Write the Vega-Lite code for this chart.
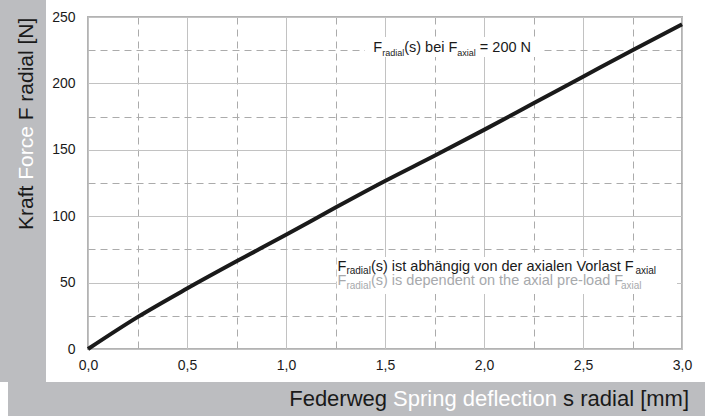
{
  "$schema": "https://vega.github.io/schema/vega-lite/v6.json",
  "width": 594,
  "height": 332,
  "autosize": {"type": "none"},
  "padding": {"left": 88, "top": 17, "right": 23, "bottom": 67},
  "background": "#ffffff",
  "config": {
    "view": {"stroke": "#b3b3b3", "strokeWidth": 2},
    "font": "Liberation Sans",
    "text": {"font": "Liberation Sans"}
  },
  "data": {"values": [{"anchor": 1}]},
  "datasets": {
    "curve": [
      {"s": 0, "F": 0},
      {"s": 0.25, "F": 24},
      {"s": 0.5, "F": 45.5},
      {"s": 0.75, "F": 66},
      {"s": 1.0, "F": 86},
      {"s": 1.25, "F": 106.5},
      {"s": 1.5, "F": 126.5},
      {"s": 1.75, "F": 145.5},
      {"s": 2.0, "F": 165},
      {"s": 2.25, "F": 185},
      {"s": 2.5, "F": 205},
      {"s": 2.75, "F": 225},
      {"s": 3.0, "F": 244.5}
    ]
  },
  "encoding": {
    "x": {
      "type": "quantitative",
      "scale": {"domain": [0, 3], "nice": false, "zero": false},
      "axis": {
        "values": [0, 0.25, 0.5, 0.75, 1, 1.25, 1.5, 1.75, 2, 2.25, 2.5, 2.75, 3],
        "title": null,
        "domain": false,
        "ticks": false,
        "tickSize": 0,
        "labelPadding": 9,
        "labelFont": "Liberation Sans",
        "labelFontSize": 14,
        "labelColor": "#1a1a1a",
        "labelFlush": false,
        "labelOverlap": false,
        "labelExpr": "datum.value % 0.5 == 0 ? replace(format(datum.value, '.1f'), '.', ',') : ''",
        "grid": true,
        "gridWidth": 1,
        "gridColor": {"condition": {"test": "datum.value % 0.5 != 0", "value": "#ababab"}, "value": "#c2c2c2"},
        "gridDash": {"condition": {"test": "datum.value % 0.5 != 0", "value": [7, 5]}, "value": []},
        "zindex": 0
      }
    },
    "y": {
      "type": "quantitative",
      "scale": {"domain": [0, 250], "nice": false, "zero": false},
      "axis": {
        "values": [0, 25, 50, 75, 100, 125, 150, 175, 200, 225, 250],
        "title": null,
        "domain": false,
        "ticks": false,
        "tickSize": 0,
        "labelPadding": 13,
        "labelFont": "Liberation Sans",
        "labelFontSize": 14,
        "labelColor": "#1a1a1a",
        "labelFlush": false,
        "labelOverlap": false,
        "labelExpr": "datum.value % 50 == 0 ? datum.label : ''",
        "grid": true,
        "gridWidth": 1,
        "gridColor": {"condition": {"test": "datum.value % 50 != 0", "value": "#ababab"}, "value": "#c2c2c2"},
        "gridDash": {"condition": {"test": "datum.value % 50 != 0", "value": [7, 5]}, "value": []},
        "zindex": 0
      }
    }
  },
  "layer": [
    {
      "mark": {"type": "rect", "color": "#bcbdc0"},
      "encoding": {"x": {"datum": -0.4444}, "x2": {"datum": -0.2121}, "y": {"datum": 262.8}, "y2": {"datum": -24.85}}
    },
    {
      "mark": {"type": "rect", "color": "#bcbdc0"},
      "encoding": {"x": {"datum": -0.404}, "x2": {"datum": 3.1162}, "y": {"datum": -24.85}, "y2": {"datum": -50.45}}
    },
    {
      "mark": {"type": "rect", "color": "#ffffff"},
      "encoding": {"x": {"datum": 1.399}, "x2": {"datum": 2.288}, "y": {"datum": 234.9}, "y2": {"datum": 219.9}}
    },
    {
      "mark": {"type": "rect", "color": "#ffffff"},
      "encoding": {"x": {"datum": 1.256}, "x2": {"datum": 2.9747}, "y": {"datum": 69.28}, "y2": {"datum": 41.42}}
    },
    {
      "mark": {"type": "text", "text": "F", "fontSize": 14.5, "align": "left", "baseline": "alphabetic", "color": "#1a1a1a"},
      "encoding": {"x": {"datum": 1.4409}, "y": {"datum": 223.87}}
    },
    {
      "mark": {"type": "text", "text": "radial", "fontSize": 9, "align": "left", "baseline": "alphabetic", "color": "#1a1a1a"},
      "encoding": {"x": {"datum": 1.4857}, "y": {"datum": 220.86}}
    },
    {
      "mark": {"type": "text", "text": "(s) bei F", "fontSize": 14.5, "align": "left", "baseline": "alphabetic", "color": "#1a1a1a"},
      "encoding": {"x": {"datum": 1.5968}, "y": {"datum": 223.87}}
    },
    {
      "mark": {"type": "text", "text": "axial", "fontSize": 9, "align": "left", "baseline": "alphabetic", "color": "#1a1a1a"},
      "encoding": {"x": {"datum": 1.8653}, "y": {"datum": 220.86}}
    },
    {
      "mark": {"type": "text", "text": "= 200 N", "fontSize": 14.5, "align": "left", "baseline": "alphabetic", "color": "#1a1a1a"},
      "encoding": {"x": {"datum": 1.9791}, "y": {"datum": 223.87}}
    },
    {
      "mark": {"type": "text", "text": "F", "fontSize": 14.5, "align": "left", "baseline": "alphabetic", "color": "#1a1a1a"},
      "encoding": {"x": {"datum": 1.2601}, "y": {"datum": 59.11}}
    },
    {
      "mark": {"type": "text", "text": "radial", "fontSize": 10, "align": "left", "baseline": "alphabetic", "color": "#1a1a1a"},
      "encoding": {"x": {"datum": 1.3051}, "y": {"datum": 56.48}}
    },
    {
      "mark": {"type": "text", "text": "(s) ist abhängig von der axialen Vorlast F", "fontSize": 14.5, "align": "left", "baseline": "alphabetic", "color": "#1a1a1a"},
      "encoding": {"x": {"datum": 1.4288}, "y": {"datum": 59.11}}
    },
    {
      "mark": {"type": "text", "text": "axial", "fontSize": 10, "align": "left", "baseline": "alphabetic", "color": "#1a1a1a"},
      "encoding": {"x": {"datum": 2.7646}, "y": {"datum": 56.48}}
    },
    {
      "mark": {"type": "text", "text": "F", "fontSize": 14.5, "align": "left", "baseline": "alphabetic", "color": "#a7a9ac"},
      "encoding": {"x": {"datum": 1.2601}, "y": {"datum": 47.82}}
    },
    {
      "mark": {"type": "text", "text": "radial", "fontSize": 10, "align": "left", "baseline": "alphabetic", "color": "#a7a9ac"},
      "encoding": {"x": {"datum": 1.3051}, "y": {"datum": 45.18}}
    },
    {
      "mark": {"type": "text", "text": "(s) is dependent on the axial pre-load F", "fontSize": 14.5, "align": "left", "baseline": "alphabetic", "color": "#a7a9ac"},
      "encoding": {"x": {"datum": 1.4288}, "y": {"datum": 47.82}}
    },
    {
      "mark": {"type": "text", "text": "axial", "fontSize": 10, "align": "left", "baseline": "alphabetic", "color": "#a7a9ac"},
      "encoding": {"x": {"datum": 2.692}, "y": {"datum": 45.18}}
    },
    {
      "mark": {"type": "text", "text": "Kraft", "fontSize": 21, "angle": -90, "align": "left", "baseline": "alphabetic", "color": "#1a1a1a"},
      "encoding": {"x": {"datum": -0.2763}, "y": {"datum": 89.6}}
    },
    {
      "mark": {"type": "text", "text": "Force", "fontSize": 21, "angle": -90, "align": "left", "baseline": "alphabetic", "color": "#ffffff"},
      "encoding": {"x": {"datum": -0.2763}, "y": {"datum": 127.4}}
    },
    {
      "mark": {"type": "text", "text": "F radial [N]", "fontSize": 21, "angle": -90, "align": "left", "baseline": "alphabetic", "color": "#1a1a1a"},
      "encoding": {"x": {"datum": -0.2763}, "y": {"datum": 172.2}}
    },
    {
      "mark": {"type": "text", "text": "Federweg", "fontSize": 22, "align": "left", "baseline": "alphabetic", "color": "#1a1a1a"},
      "encoding": {"x": {"datum": 1.0162}, "y": {"datum": -42.92}}
    },
    {
      "mark": {"type": "text", "text": "Spring deflection", "fontSize": 22, "align": "left", "baseline": "alphabetic", "color": "#ffffff"},
      "encoding": {"x": {"datum": 1.5409}, "y": {"datum": -42.92}}
    },
    {
      "mark": {"type": "text", "text": "s radial [mm]", "fontSize": 22, "align": "left", "baseline": "alphabetic", "color": "#1a1a1a"},
      "encoding": {"x": {"datum": 2.3995}, "y": {"datum": -42.92}}
    },
    {
      "data": {"name": "curve"},
      "mark": {"type": "line", "color": "#1a1a1a", "strokeWidth": 4, "interpolate": "monotone"},
      "encoding": {"x": {"field": "s", "type": "quantitative"}, "y": {"field": "F", "type": "quantitative"}}
    }
  ]
}
